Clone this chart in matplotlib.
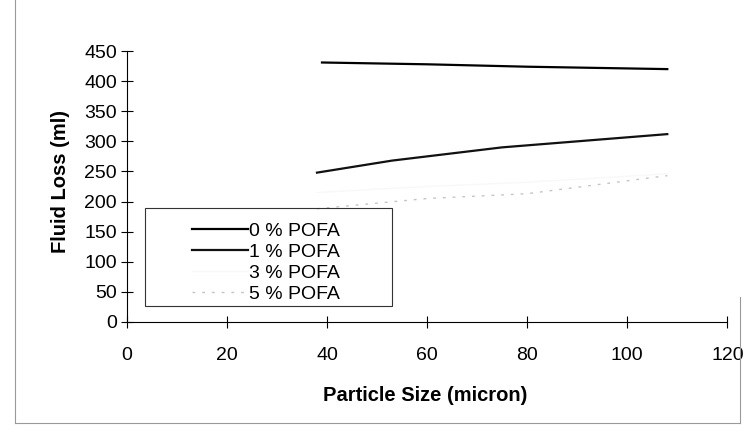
import matplotlib
matplotlib.use("Agg")
import matplotlib.pyplot as plt
from matplotlib.lines import Line2D
from matplotlib.patches import Rectangle

plt.rcParams["font.family"] = ["Liberation Sans", "DejaVu Sans"]

# Data
size_0 = [39, 60, 80, 108]
loss_0 = [431, 428, 424, 420]

size_1 = [38, 53, 75, 108]
loss_1 = [248, 268, 290, 312]

size_3 = [38, 60, 80, 108]
loss_3 = [215, 225, 232, 246]

size_5 = [38, 60, 80, 108]
loss_5 = [188, 205, 213, 243]

labels = ["0 % POFA", "1 % POFA", "3 % POFA", "5 % POFA"]
x_ticks = [0, 20, 40, 60, 80, 100, 120]
y_ticks = [0, 50, 100, 150, 200, 250, 300, 350, 400, 450]

fig = plt.figure(figsize=(7.46, 4.44), dpi=100)
ax = fig.add_axes([0.170, 0.275, 0.805, 0.610])

ax.plot(size_0, loss_0, color="black", lw=1.6, label=labels[0])
ax.plot(size_1, loss_1, color="#111111", lw=1.6, label=labels[1])
ax.plot(size_3, loss_3, color="#f8f8f8", lw=1.0, label=labels[2])
ax.plot(size_5, loss_5, color="#c4c4c4", lw=1.0, ls=(0, (2, 5)), label=labels[3])

ax.set_xlim(0, 120)
ax.set_ylim(0, 450)
ax.set_xticks(x_ticks)
ax.set_yticks(y_ticks)
ax.tick_params(axis="both", direction="inout", length=8, width=0.8,
               labelsize=14)
ax.tick_params(axis="x", pad=14)
ax.tick_params(axis="y", pad=3)
for s in ["top", "right"]:
    ax.spines[s].set_visible(False)
for s in ["left", "bottom"]:
    ax.spines[s].set_linewidth(0.8)

ax.set_xlabel("Particle Size (micron)", fontsize=14.5, fontweight="bold")
ax.xaxis.set_label_coords(0.497, -0.235)
ax.set_ylabel("Fluid Loss (ml)", fontsize=14.5, fontweight="bold")
ax.yaxis.set_label_coords(-0.095, 0.52)

# legend box (drawn separately to get the wide Excel-style frame)
ax.add_patch(Rectangle((0.03, 0.059), 0.412, 0.36, transform=ax.transAxes,
                       fill=False, edgecolor="#333333", lw=0.8, zorder=3))
ax.legend(loc="upper left", bbox_to_anchor=(0.092, 0.405), frameon=False,
          fontsize=14, borderpad=0, handlelength=2.9, handletextpad=0.05,
          labelspacing=0.18)

# outer chart border
border = "#9a9a9a"
fig.add_artist(Line2D([0.02, 0.02], [0.047, 1.0], color=border, lw=0.8))
fig.add_artist(Line2D([0.02, 0.992], [0.047, 0.047], color=border, lw=0.8))
fig.add_artist(Line2D([0.992, 0.992], [0.047, 0.33], color=border, lw=0.8))

fig.savefig("out.png", dpi=100)
